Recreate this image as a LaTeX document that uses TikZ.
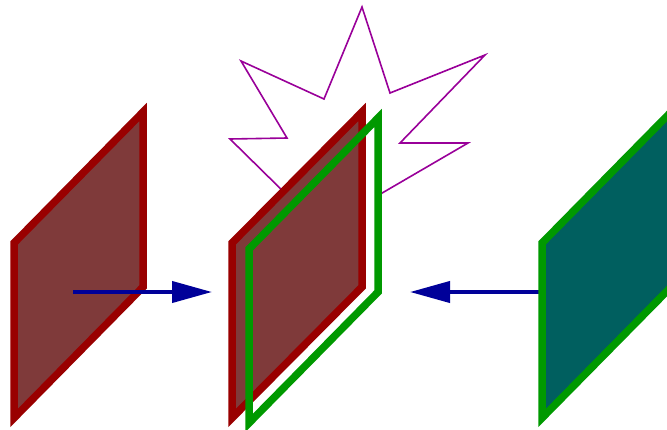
\documentclass[tikz,border=0pt]{standalone}
\usetikzlibrary{arrows.meta}
\definecolor{plateRedLine}{RGB}{153,0,0}
\definecolor{plateRedFill}{RGB}{127,58,58}
\definecolor{plateGreenLine}{RGB}{0,153,0}
\definecolor{plateGreenFill}{RGB}{0,95,95}
\definecolor{arrowBlue}{RGB}{0,0,153}
\definecolor{starPurple}{RGB}{153,0,153}
\tikzset{
  redplate/.style={draw=plateRedLine, fill=plateRedFill, line width=7.5pt, line join=miter},
  greenplate/.style={draw=plateGreenLine, fill=plateGreenFill, line width=7.5pt, line join=miter},
  greenframe/.style={draw=plateGreenLine, line width=7.5pt, line join=miter},
  burst/.style={draw=starPurple, line width=1.6pt, line join=miter},
  push/.style={draw=arrowBlue, line width=4pt, -{Triangle[length=40pt,width=21pt]}}
}
\begin{document}
\begin{tikzpicture}[x=1pt,y=-1pt]
\useasboundingbox (0,0) rectangle (667,429);
\clip (0,0) rectangle (667,429);
% named coordinates
\coordinate (lstart) at (73,292);
\coordinate (ltip) at (212,292);
\coordinate (rstart) at (606,292);
\coordinate (rtip) at (410,292);
% starburst (behind the plates)
\draw[burst] (362,7) -- (390,93) -- (485,55) -- (400,143) -- (468,143)
  -- (365,203) -- (292,200) -- (230,139) -- (287,138) -- (241,61)
  -- (324,99) -- cycle;
% right arrow (behind right plate)
\draw[push] (rstart) -- (rtip);
% left plate
\draw[redplate] (14,243) -- (143,112) -- (143,287) -- (14,418) -- cycle;
% middle: white backing for the green frame, red plate, green frame
\fill[white] (249,249) -- (378,118) -- (378,292) -- (249,423) -- cycle;
\draw[redplate] (232,243) -- (362,112) -- (362,287) -- (232,418) -- cycle;
\draw[greenframe] (249,249) -- (378,118) -- (378,292) -- (249,423) -- cycle;
% right plate
\draw[greenplate] (542,243) -- (671,112) -- (671,287) -- (542,418) -- cycle;
% left arrow (over left plate)
\draw[push] (lstart) -- (ltip);
\end{tikzpicture}
\end{document}
